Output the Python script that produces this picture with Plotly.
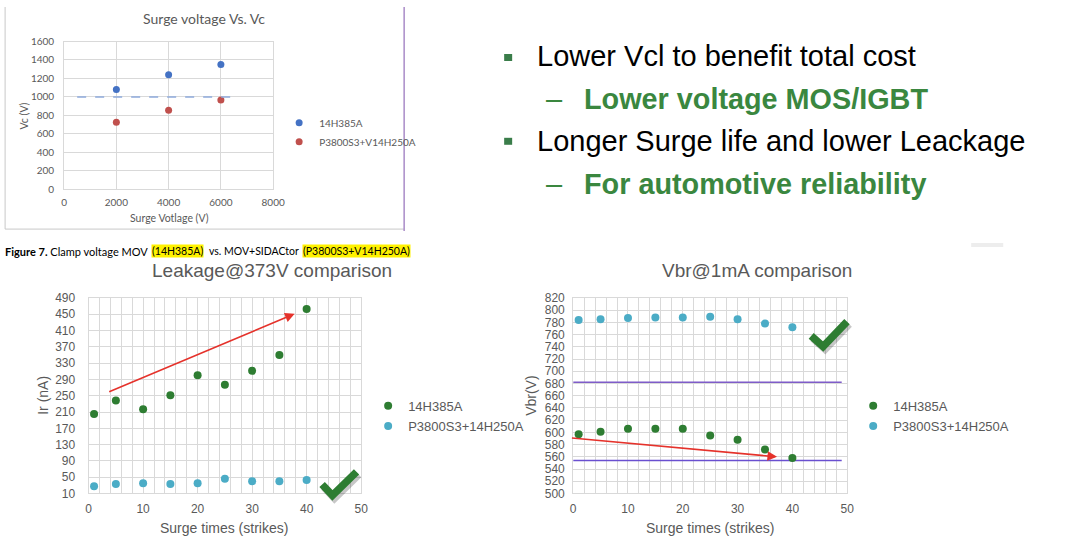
import plotly.graph_objects as go

W, H = 1080, 544
# Empirical correction for where the screenshot places the page
# (observed: shown = A + B * page coordinate).
AX, BX = 2.9, 0.986
AY, BY = 5.4, 0.9765


def px(x):
    return ((x - AX) / BX) / W


def py(y):
    return 1 - ((y - AY) / BY) / H


# ---------------- data ----------------
# Chart 1: Surge voltage vs Vc
surge_voltage = [2000, 4000, 6000]
vc_mov = [1080, 1240, 1350]
vc_sidactor = [725, 855, 965]
vc_limit_x = [500, 6500]
vc_limit_y = [1000, 1000]
name_mov_1 = "14H385A"
name_sid_1 = "P3800S3+V14H250A"

# Chart 2: Leakage@373V
strikes = [1, 5, 10, 15, 20, 25, 30, 35, 40]
leak_mov = [205, 238, 217, 251, 300, 277, 311, 350, 463]
leak_sidactor = [28, 33, 35, 33, 35, 46, 40, 40, 43]
leak_trend_x = [3.5, 37.8]
leak_trend_y = [258, 451]

# Chart 3: Vbr@1mA
vbr_mov = [597, 601, 606, 606, 606, 595, 588, 572, 558]
vbr_sidactor = [784, 785, 787, 788, 788, 789, 785, 778, 772]
vbr_limit_x = [0, 49]
vbr_upper_limit = [682, 682]
vbr_lower_limit = [554, 554]
vbr_trend_x = [-0.5, 37.2]
vbr_trend_y = [591, 560]

name_mov = "14H385A"
name_sid = "P3800S3+14H250A"

leak_ticks = list(range(10, 491, 40))
vbr_ticks = list(range(500, 821, 20))

# ---------------- style ----------------
BLUE = "#4472C4"
RED = "#C0504D"
GREEN = "#2E7D32"
CYAN = "#4BACC6"
GRID = "#D9D9D9"
TXT = "#595959"
TXTGREEN = "#3A873F"
ARROW = "#E5322B"

fig = go.Figure()

# Chart 1
fig.add_trace(go.Scatter(x=surge_voltage, y=vc_mov, mode="markers", name=name_mov_1,
                         marker=dict(color=BLUE, size=7), xaxis="x", yaxis="y",
                         legend="legend", legendgroup="a1"))
fig.add_trace(go.Scatter(x=surge_voltage, y=vc_sidactor, mode="markers", name=name_sid_1,
                         marker=dict(color=RED, size=7), xaxis="x", yaxis="y",
                         legend="legend", legendgroup="b1"))
fig.add_trace(go.Scatter(x=vc_limit_x, y=vc_limit_y, mode="lines", showlegend=False,
                         line=dict(color="#8FAADC", width=1.5, dash="dash"),
                         xaxis="x", yaxis="y", hoverinfo="skip"))

# Chart 2
fig.add_trace(go.Scatter(x=strikes, y=leak_mov, mode="markers", name=name_mov,
                         marker=dict(color=GREEN, size=8), xaxis="x2", yaxis="y2",
                         legend="legend2", legendgroup="a2"))
fig.add_trace(go.Scatter(x=strikes, y=leak_sidactor, mode="markers", name=name_sid,
                         marker=dict(color=CYAN, size=8), xaxis="x2", yaxis="y2",
                         legend="legend2", legendgroup="b2"))

# Chart 3
fig.add_trace(go.Scatter(x=vbr_limit_x, y=vbr_upper_limit, mode="lines", showlegend=False,
                         line=dict(color="#7E5CC8", width=1.5), xaxis="x3", yaxis="y3",
                         hoverinfo="skip"))
fig.add_trace(go.Scatter(x=vbr_limit_x, y=vbr_lower_limit, mode="lines", showlegend=False,
                         line=dict(color="#6A50D0", width=1.5), xaxis="x3", yaxis="y3",
                         hoverinfo="skip"))
fig.add_trace(go.Scatter(x=strikes, y=vbr_mov, mode="markers", name=name_mov,
                         marker=dict(color=GREEN, size=8), xaxis="x3", yaxis="y3",
                         legend="legend3", legendgroup="a3"))
fig.add_trace(go.Scatter(x=strikes, y=vbr_sidactor, mode="markers", name=name_sid,
                         marker=dict(color=CYAN, size=8), xaxis="x3", yaxis="y3",
                         legend="legend3", legendgroup="b3"))

f1 = dict(family="Lato", size=10, color=TXT)
f2 = dict(family="Liberation Sans, Arial", size=12, color=TXT)

common_ax = dict(showgrid=True, gridcolor=GRID, gridwidth=1, zeroline=False,
                 showline=True, linecolor=GRID, linewidth=1, mirror=True,
                 ticks="", fixedrange=True)

fig.update_layout(
    width=W, height=H, margin=dict(l=0, r=0, t=0, b=0),
    paper_bgcolor="white", plot_bgcolor="white",
    xaxis=dict(domain=[px(64), px(273)], range=[0, 8000], dtick=2000, tick0=0,
               tickfont=f1, ticklabelstandoff=4, anchor="y", **common_ax),
    yaxis=dict(domain=[py(188), py(40)], range=[0, 1600], dtick=200, tick0=0,
               tickfont=f1, ticklabelstandoff=7, anchor="x", **common_ax),
    xaxis2=dict(domain=[px(88.5), px(361)], range=[0, 50], dtick=10, tick0=0,
                tickfont=f2, ticklabelstandoff=4, anchor="y2",
                minor=dict(dtick=2, showgrid=True, gridcolor=GRID, gridwidth=1),
                **common_ax),
    yaxis2=dict(domain=[py(493), py(297)], range=[10, 490], tickvals=leak_ticks,
                tickfont=f2, ticklabelstandoff=10, anchor="x2", **common_ax),
    xaxis3=dict(domain=[px(573), px(847)], range=[0, 50], dtick=10, tick0=0,
                tickfont=f2, ticklabelstandoff=4, anchor="y3",
                minor=dict(dtick=2, showgrid=True, gridcolor=GRID, gridwidth=1),
                **common_ax),
    yaxis3=dict(domain=[py(493), py(297)], range=[500, 820], tickvals=vbr_ticks,
                tickfont=f2, ticklabelstandoff=5, anchor="x3", **common_ax),
    legend=dict(x=px(279), y=py(107), xanchor="left", yanchor="top",
                font=dict(family="Lato", size=10, color=TXT), bgcolor="rgba(0,0,0,0)",
                tracegroupgap=0, itemwidth=30),
    legend2=dict(x=px(368), y=py(390), xanchor="left", yanchor="top",
                 font=dict(family="Liberation Sans, Arial", size=13, color=TXT),
                 bgcolor="rgba(0,0,0,0)", tracegroupgap=0.5, itemwidth=30),
    legend3=dict(x=px(853), y=py(390), xanchor="left", yanchor="top",
                 font=dict(family="Liberation Sans, Arial", size=13, color=TXT),
                 bgcolor="rgba(0,0,0,0)", tracegroupgap=0.5, itemwidth=30),
    showlegend=True,
)

ann = []


def text(x, y, s, size, color="black", family="Liberation Sans, Arial", xanchor="center",
         yanchor="middle", angle=0, bgcolor=None):
    d = dict(x=px(x), y=py(y), xref="paper", yref="paper", text=s, showarrow=False,
             xanchor=xanchor, yanchor=yanchor, textangle=angle,
             font=dict(family=family, size=size, color=color), borderpad=0)
    if bgcolor:
        d["bgcolor"] = bgcolor
    ann.append(d)


# Chart titles and axis titles
text(204, 17, "Surge voltage Vs. Vc", 14, TXT, "Lato")
text(169, 217, "Surge Votlage (V)", 10.5, TXT, "Lato")
text(24, 115, "Vc (V)", 10.5, TXT, "Lato", angle=-90)

text(272, 270, "Leakage@373V comparison", 19, TXT)
text(224, 528, "Surge times (strikes)", 14, TXT)
text(43, 395, "Ir (nA)", 14, TXT, angle=-90)

text(757, 270, "Vbr@1mA comparison", 19, TXT)
text(710, 528, "Surge times (strikes)", 14, TXT)
text(531, 395, "Vbr(V)", 14, TXT, angle=-90)

# Caption with highlights
text(148.5, 250, "<b>Figure 7.</b> Clamp voltage MOV", 11, "black", "Lato", xanchor="right")
text(151, 250, "(14H385A)", 10.5, "black", "Lato", xanchor="left", bgcolor="#FFF200")
text(208, 250, "vs. MOV+SIDACtor", 10.5, "black", "Lato", xanchor="left")
text(302, 250, "(P3800S3+V14H250A)", 10.5, "black", "Lato", xanchor="left", bgcolor="#FFF200")

# Bullet text
text(536, 54.5, "Lower Vcl to benefit total cost", 29, "black", xanchor="left")
text(545, 97.5, "–", 29, TXTGREEN, xanchor="left")
text(583, 97.5, "<b>Lower voltage MOS/IGBT</b>", 28.8, TXTGREEN, xanchor="left")
text(536, 139.5, "Longer Surge life and lower Leackage", 29, "black", xanchor="left")
text(545, 182.5, "–", 29, TXTGREEN, xanchor="left")
text(583, 182.5, "<b>For automotive reliability</b>", 28.8, TXTGREEN, xanchor="left")

# Trend arrows
ann.append(dict(x=leak_trend_x[1], y=leak_trend_y[1], ax=leak_trend_x[0], ay=leak_trend_y[0],
                xref="x2", yref="y2", axref="x2", ayref="y2", text="", showarrow=True,
                arrowhead=2, arrowsize=1.2, arrowwidth=1.6, arrowcolor=ARROW))
ann.append(dict(x=vbr_trend_x[1], y=vbr_trend_y[1], ax=vbr_trend_x[0], ay=vbr_trend_y[0],
                xref="x3", yref="y3", axref="x3", ayref="y3", text="", showarrow=True,
                arrowhead=2, arrowsize=1.2, arrowwidth=1.6, arrowcolor=ARROW))

fig.update_layout(annotations=ann)

# Decorative shapes
shapes = []


def check_path(pts, dx=0, dy=0):
    s = ""
    for i, (x, y) in enumerate(pts):
        s += ("M" if i == 0 else " L") + f" {px(x + dx):.5f},{py(y + dy):.5f}"
    return s


for pts in ([(322, 484), (332.3, 495), (356.4, 471.3)],
            [(811, 335), (822.9, 345.7), (846.8, 320.7)]):
    shapes.append(dict(type="path", xref="paper", yref="paper", path=check_path(pts, 2, 2.5),
                       line=dict(color="rgba(0,0,0,0.22)", width=8)))
    shapes.append(dict(type="path", xref="paper", yref="paper", path=check_path(pts),
                       line=dict(color="#2E7D32", width=7.5)))

# box around chart 1
shapes.append(dict(type="line", xref="paper", yref="paper", x0=px(5), x1=px(5), y0=1, y1=py(228),
                   line=dict(color="#C8C8C8", width=1)))
shapes.append(dict(type="line", xref="paper", yref="paper", x0=px(5), x1=px(404), y0=py(228), y1=py(228),
                   line=dict(color="#C8C8C8", width=1)))
shapes.append(dict(type="line", xref="paper", yref="paper", x0=px(404), x1=px(404), y0=1, y1=py(230),
                   line=dict(color="#A98BC8", width=1.5)))
# bullets
for yy in (56, 140):
    shapes.append(dict(type="rect", xref="paper", yref="paper", x0=px(504), x1=px(512),
                       y0=py(yy + 3.5), y1=py(yy - 3.5), fillcolor="#3A7D4A", line=dict(width=0)))
# light gray bar
shapes.append(dict(type="rect", xref="paper", yref="paper", x0=px(971), x1=px(1003), y0=py(246), y1=py(242),
                   fillcolor="#EDEDED", line=dict(width=0)))

fig.update_layout(shapes=shapes)

fig.write_html(
    "out.html",
    config={"displayModeBar": False, "staticPlot": True},
    post_script=(
        "document.documentElement.style.margin='0';"
        "document.documentElement.style.padding='0';"
        "document.documentElement.style.overflow='hidden';"
        "document.body.style.margin='0';document.body.style.padding='0';"
        "document.body.style.overflow='hidden';"
    ),
)
